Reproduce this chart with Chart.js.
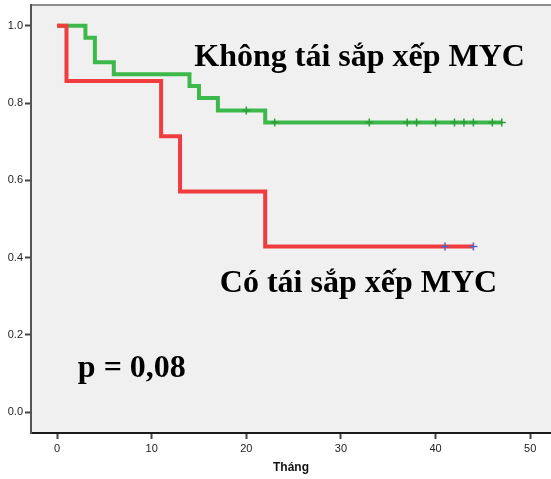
<!DOCTYPE html>
<html>
<head>
<meta charset="utf-8">
<script src="https://cdn.jsdelivr.net/npm/chart.js@4.4.0/dist/chart.umd.min.js"></script>
<style>
    html, body { margin: 0; padding: 0; background: #fff; }
    #wrap { width: 551px; height: 479px; }
</style>
</head>
<body>
<div id="wrap"><canvas id="kmChart" width="551" height="479"></canvas></div>
<script>
// --- Date ---
const xTicks = [0, 10, 20, 30, 40, 50];
const yTicks = [0, 0.2, 0.4, 0.6, 0.8, 1.0];

// Có tái sắp xếp MYC (rosu)
const redTimes = [0, 1, 11, 13, 22, 44];
const redSurv = [1, 0.857, 0.714, 0.571, 0.429, 0.429];
const redCensorTimes = [41, 44];
const redCensorSurv = [0.429, 0.429];

// Không tái sắp xếp MYC (verde)
const greenTimes = [0, 3, 4, 6, 14, 15, 17, 22, 47];
const greenSurv = [1, 0.969, 0.906, 0.875, 0.844, 0.813, 0.781, 0.75, 0.75];
const greenCensorTimes = [20, 23, 33, 37, 38, 40, 42, 43, 44, 46, 47];
const greenCensorSurv = [0.781, 0.75, 0.75, 0.75, 0.75, 0.75, 0.75, 0.75, 0.75, 0.75, 0.75];

const groupLabels = ['Không tái sắp xếp MYC', 'Có tái sắp xếp MYC'];
const pValueText = 'p = 0,08';
const xTitle = 'Tháng';

function toPoints(xs, ys) {
    return xs.map((x, i) => ({ x: x, y: ys[i] }));
}

document.addEventListener('DOMContentLoaded', function () {

    const ctx = document.getElementById('kmChart').getContext('2d');

    // fundal gri + linia de sus a zonei graficului
    const plotBackground = {
        id: 'plotBackground',
        beforeDraw(chart) {
            const a = chart.chartArea;
            const c = chart.ctx;
            c.save();
            c.fillStyle = '#f0f0f0';
            c.fillRect(a.left, a.top, a.right - a.left, a.bottom - a.top);
            c.strokeStyle = '#8c8c8c';
            c.lineWidth = 2;
            c.beginPath();
            c.moveTo(a.left, a.top);
            c.lineTo(a.right, a.top);
            c.stroke();
            c.restore();
        }
    };

    // etichetele text din interiorul graficului
    const innerLabels = {
        id: 'innerLabels',
        afterDatasetsDraw(chart) {
            const xs = chart.scales.x;
            const ys = chart.scales.y;
            const c = chart.ctx;
            c.save();
            c.fillStyle = '#000';
            c.textAlign = 'left';
            c.textBaseline = 'alphabetic';
            c.font = 'bold 32px "Liberation Serif"';
            c.fillText(groupLabels[0], xs.getPixelForValue(14.5), ys.getPixelForValue(0.896));
            c.fillText(groupLabels[1], xs.getPixelForValue(17.2), ys.getPixelForValue(0.312));
            c.fillText(pValueText, xs.getPixelForValue(2.2), ys.getPixelForValue(0.092));
            c.restore();
        }
    };

    const tickFont = { family: 'Liberation Sans', size: 11 };

    new Chart(ctx, {
        type: 'line',
        data: {
            datasets: [
                {
                    data: toPoints(redCensorTimes, redCensorSurv),
                    showLine: false,
                    pointStyle: 'cross',
                    pointRadius: 4,
                    pointBorderWidth: 1.5,
                    pointBorderColor: '#5563c4',
                    pointBackgroundColor: '#5563c4'
                },
                {
                    data: toPoints(redTimes, redSurv),
                    stepped: true,
                    borderColor: '#f03c3e',
                    borderWidth: 4,
                    pointRadius: 0,
                    fill: false
                },
                {
                    data: toPoints(greenCensorTimes, greenCensorSurv),
                    showLine: false,
                    pointStyle: 'cross',
                    pointRadius: 4,
                    pointBorderWidth: 1.5,
                    pointBorderColor: '#2c9c3a',
                    pointBackgroundColor: '#2c9c3a'
                },
                {
                    data: toPoints(greenTimes, greenSurv),
                    stepped: true,
                    borderColor: '#3cb94a',
                    borderWidth: 4,
                    pointRadius: 0,
                    fill: false
                }
            ]
        },
        options: {
            responsive: false,
            animation: false,
            devicePixelRatio: 1,
            layout: { autoPadding: false, padding: { top: 5, right: 0, left: 0, bottom: 0 } },
            plugins: {
                legend: { display: false },
                tooltip: { enabled: false }
            },
            scales: {
                x: {
                    type: 'linear',
                    min: -2.75,
                    max: 52.2,
                    afterBuildTicks(scale) { scale.ticks = xTicks.map(v => ({ value: v })); },
                    afterFit(scale) {
                        scale.height = 46;
                        scale.paddingLeft = 0;
                        scale.paddingRight = 0;
                    },
                    ticks: {
                        font: tickFont,
                        color: '#222',
                        padding: 3,
                        maxRotation: 0,
                        autoSkip: false,
                        callback: v => String(v)
                    },
                    grid: {
                        display: true,
                        drawOnChartArea: false,
                        drawTicks: true,
                        tickLength: 6,
                        tickWidth: 2,
                        tickColor: '#444'
                    },
                    border: { display: true, color: '#1a1a1a', width: 2 },
                    title: {
                        display: true,
                        text: xTitle,
                        color: '#111',
                        font: { family: 'Liberation Sans', size: 12, weight: 'bold' },
                        padding: { top: 4, bottom: 4 }
                    }
                },
                y: {
                    type: 'linear',
                    min: -0.054,
                    max: 1.054,
                    afterBuildTicks(scale) { scale.ticks = yTicks.map(v => ({ value: v })); },
                    afterFit(scale) {
                        scale.width = 31;
                        scale.paddingTop = 0;
                        scale.paddingBottom = 0;
                    },
                    ticks: {
                        font: tickFont,
                        color: '#222',
                        padding: 2,
                        autoSkip: false,
                        callback: v => Number(v).toFixed(1)
                    },
                    grid: {
                        display: true,
                        drawOnChartArea: false,
                        drawTicks: true,
                        tickLength: 6,
                        tickWidth: 2,
                        tickColor: '#444'
                    },
                    border: { display: true, color: '#555', width: 2 }
                }
            }
        },
        plugins: [plotBackground, innerLabels]
    });
});
</script>
</body>
</html>
